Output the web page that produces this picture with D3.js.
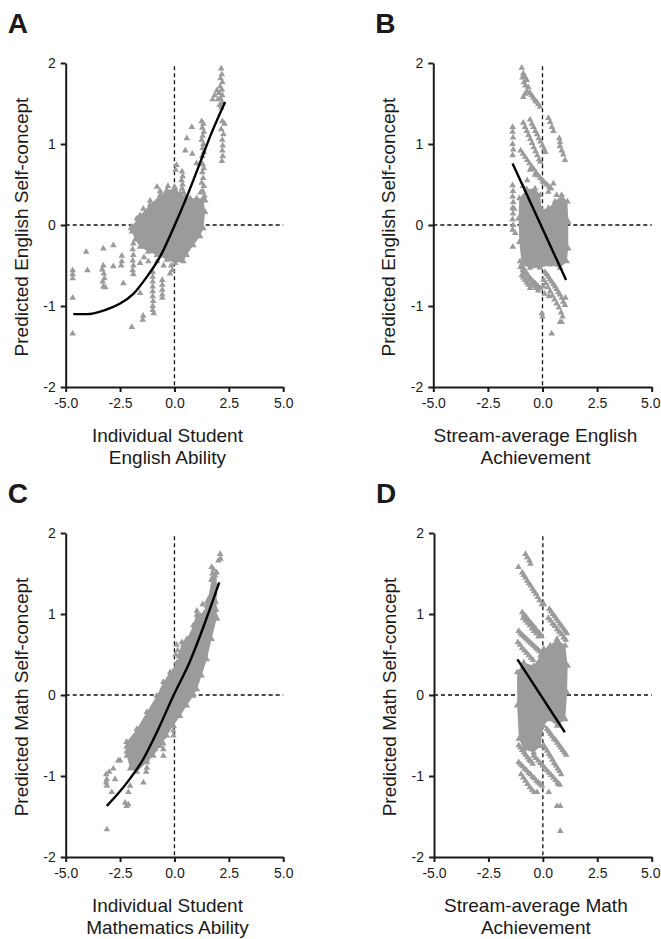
<!DOCTYPE html>
<html>
<head>
<meta charset="utf-8">
<script src="https://cdn.jsdelivr.net/npm/d3@7"></script>
<style>
  body { margin: 0; background: #fff; }
  svg { display: block; }
  text { font-family: "Liberation Sans", Arial, sans-serif; fill: #1a1a1a; }
</style>
</head>
<body>
<svg id="fig"></svg>
<script>
// axis ticks shared by all four panels
const xTicks = [-5, -2.5, 0, 2.5, 5];
const yTicks = [-2, -1, 0, 1, 2];

// --- Panel A: individual English ability vs predicted English self-concept ---
const pointsA = [
  [2.15,1.93],[2.18,1.86],[2.12,1.81],[2.2,1.76],[2.1,1.71],[2.18,1.67],[2.05,1.63],[2.2,1.6],[2.12,1.56],[2.2,1.51],
  [2.08,1.48],[2.15,1.45],[1.95,1.66],[1.85,1.6],[1.75,1.55],[2.0,1.55],
  [2.2,1.28],[2.3,1.25],[2.15,1.18],[2.25,1.12],[2.2,1.05],[2.22,0.98],[2.2,0.92],[2.22,0.85],[2.18,0.79],
  [1.25,1.28],[1.33,1.25],[1.28,1.2],[1.35,1.15],[1.3,1.1],[1.25,1.05],[1.33,1.0],[1.3,0.95],[1.35,0.9],[1.28,0.85],
  [1.3,0.75],[1.35,0.7],[1.28,0.65],[1.32,0.58],[1.25,0.52],[1.35,0.48],[1.3,0.42],[1.38,0.36],[1.42,0.3],[1.2,0.4],
  [0.8,1.21],[0.57,1.07],[0.5,0.92],[0.82,0.88],[1.02,0.76],[0.1,0.74],[0.05,0.68],
  [0.35,0.66],[0.38,0.6],[0.33,0.55],[0.37,0.5],[0.35,0.45],[0.42,0.4],[0.0,0.47],[0.02,0.42],
  [-0.66,0.42],[-0.8,0.47],[-1.12,0.3],[-1.43,0.2],[-1.73,0.08],[-2.0,-0.04],[-0.3,0.48],
  [-4.68,-0.56],[-4.68,-0.61],[-4.68,-0.66],[-4.68,-0.9],[-4.68,-1.34],
  [-4.06,-0.33],[-4.0,-0.56],
  [-3.27,-0.29],[-3.27,-0.5],[-3.32,-0.55],[-3.25,-0.6],[-3.22,-0.66],[-3.3,-0.7],[-3.27,-0.76],[-3.18,-0.77],
  [-2.81,-0.25],[-2.81,-0.51],
  [-2.42,-0.45],[-2.45,-0.5],[-2.35,-0.72],[-2.42,-0.38],
  [-1.89,-0.23],[-1.92,-0.3],[-1.89,-0.37],[-1.92,-0.44],[-1.89,-0.5],[-1.92,-0.56],[-1.89,-0.61],
  [-1.58,-0.47],[-1.58,-0.84],
  [-1.96,-1.26],[-1.46,-1.17],[-1.44,-1.12],
  [-1.0,-0.58],[-1.0,-0.64],[-1.0,-0.7],[-1.0,-0.76],[-1.0,-0.82],[-1.0,-0.88],[-0.98,-0.94],[-1.0,-1.0],[-1.0,-1.05],[-0.95,-1.09],
  [-0.56,-0.68],[-0.56,-0.74],[-0.56,-0.8],[-0.56,-0.86],[-0.56,-0.9],
  [-0.1,-0.56],[-0.2,-0.6],[-0.15,-0.5],
  [-1.4,-0.4],[-1.2,-0.45],[-0.8,-0.45],[-0.5,-0.5]
];
// outline of the dense core of the cloud
const cloudA = [
  [-1.96,-0.02],[-1.58,0.12],[-1.12,0.25],[-0.66,0.37],[-0.35,0.43],[0.03,0.45],[0.26,0.39],[0.49,0.35],
  [0.72,0.33],[1.02,0.33],[1.33,0.33],[1.41,0.16],[1.33,-0.04],[1.18,-0.14],[0.87,-0.25],[0.56,-0.37],
  [0.41,-0.45],[0.03,-0.47],[-0.35,-0.43],[-0.81,-0.37],[-1.2,-0.33],[-1.58,-0.27],[-1.81,-0.18],[-1.96,-0.08]
];
const fitA = [
  [-4.65,-1.1],[-4.0,-1.1],[-3.42,-1.07],[-2.9,-1.02],[-2.5,-0.97],[-1.89,-0.85],[-1.27,-0.64],
  [-0.66,-0.39],[-0.05,-0.04],[0.57,0.35],[1.18,0.77],[1.71,1.14],[2.33,1.52]
];

// --- Panel B: stream-average English achievement ---
const pointsB = [
  [-0.95,1.94],[-0.88,1.87],[-0.92,1.82],[-0.8,1.83],[-0.85,1.76],[-0.72,1.79],[-0.78,1.72],[-0.65,1.7],[-0.7,1.65],
  [-0.57,1.63],[-0.5,1.6],[-0.42,1.57],[-0.35,1.54],[-0.27,1.52],[-0.2,1.49],[-0.11,1.46],[-0.88,1.58],[-0.8,1.62],
  [-1.37,1.21],[-1.37,1.15],[-1.35,1.08],[-1.37,1.0],[-1.34,0.93],[-1.37,0.86],
  [-0.88,1.26],[-0.8,1.21],[-0.72,1.16],[-0.64,1.11],[-0.56,1.06],[-0.48,1.01],[-0.4,0.96],[-0.32,0.91],[-0.24,0.86],
  [-0.16,0.81],[-0.1,0.78],
  [-0.57,1.3],[-0.49,1.25],[-0.41,1.21],[-0.33,1.16],[-0.25,1.12],[-0.17,1.07],[-0.09,1.03],[-0.01,0.98],[0.07,0.94],[0.13,0.9],
  [0.27,1.32],[0.35,1.27],[0.43,1.21],[0.5,1.16],[0.77,1.07],[0.8,0.97],[0.88,0.92],[0.95,0.87],[1.03,0.8],[0.8,1.02],
  [-1.0,0.92],[-0.9,0.88],[-0.8,0.84],[-0.7,0.8],[-0.6,0.76],[-0.5,0.72],[-0.4,0.69],[-0.3,0.65],[-0.2,0.61],
  [-0.1,0.58],[0.0,0.55],[0.1,0.52],[0.2,0.5],[0.3,0.47],
  [-0.57,0.68],[-0.34,0.62],[0.04,0.53],[0.27,0.41],[0.5,0.51],[0.65,0.37],[-0.7,0.55],[-0.9,0.48],[0.4,0.45],
  [-1.37,0.49],[-1.35,0.42],[-1.37,0.35],[-1.34,0.28],[-1.37,0.21],[-1.35,0.14],[-1.37,0.07],[-1.34,0.0],[-1.37,-0.06],
  [-1.36,-0.27],[-1.3,0.2],[-1.25,-0.1],
  [-1.03,-0.45],[-0.95,-0.5],[-0.88,-0.53],[-0.8,-0.57],[-0.72,-0.6],[-0.65,-0.63],[-0.57,-0.66],[-0.5,-0.68],
  [-0.42,-0.7],[-0.34,-0.72],[-0.27,-0.74],[-0.19,-0.76],[-0.11,-0.78],
  [-1.0,-0.52],[-0.9,-0.56],[-0.8,-0.6],[-0.7,-0.64],[-0.6,-0.68],[-0.5,-0.72],[-0.4,-0.75],[-0.3,-0.78],[-0.2,-0.81],
  [-0.95,-0.62],[-0.88,-0.65],[-0.8,-0.68],[-0.72,-0.71],[-0.65,-0.74],[-0.57,-0.78],
  [0.11,-0.58],[0.19,-0.61],[0.27,-0.64],[0.34,-0.67],[0.42,-0.7],[0.5,-0.73],[0.57,-0.76],[0.65,-0.79],[0.72,-0.83],
  [0.8,-0.86],[0.88,-0.9],[0.95,-0.95],[1.03,-0.99],
  [0.05,-0.68],[0.15,-0.72],[0.25,-0.77],[0.35,-0.82],[0.45,-0.87],[0.55,-0.92],[0.65,-0.97],[0.75,-1.02],[0.85,-1.08],[0.92,-1.13],
  [0.04,-0.76],[0.1,-0.85],[-0.03,-1.09],[0.0,-1.13],[0.42,-1.34],[0.8,-1.2],[0.88,-1.2],[1.05,-0.9],[0.3,-0.88]
];
const cloudB = [
  [-1.06,0.33],[-0.72,0.44],[-0.34,0.45],[-0.11,0.37],[-0.04,0.19],[0.27,0.21],[0.57,0.29],[0.88,0.37],
  [1.14,0.29],[1.18,0.04],[1.18,-0.29],[1.11,-0.45],[0.8,-0.53],[0.34,-0.49],[-0.11,-0.53],[-0.57,-0.53],
  [-0.95,-0.49],[-1.06,-0.21],[-1.1,0.08]
];
const fitB = [[-1.37,0.76],[1.08,-0.68]];

// --- Panel C: individual mathematics ability ---
const pointsC = [
  [2.1,1.74],[2.02,1.66],[2.12,1.68],[1.71,1.58],[1.8,1.55],[1.75,1.5],[1.85,1.48],[1.72,1.42],[1.8,1.38],[1.9,1.35],
  [1.75,1.3],[1.85,1.25],[1.78,1.2],[1.9,1.15],[1.82,1.1],[1.92,1.05],[1.85,1.0],[1.95,0.95],[1.6,1.2],[1.5,1.15],
  [1.03,0.99],[1.08,0.95],[1.05,0.9],[1.1,0.85],[1.03,0.8],[1.08,0.75],[1.05,0.7],[1.3,1.12],
  [0.1,0.62],[0.15,0.55],[0.05,0.5],[0.2,0.48],
  [-3.14,-0.98],[-3.11,-1.04],[-3.11,-1.12],[-3.14,-1.08],[-3.0,-0.95],[-2.81,-0.91],[-2.73,-1.04],[-2.88,-1.2],
  [-2.58,-0.81],[-2.27,-1.33],[-2.2,-1.37],[-2.12,-1.35],[-1.43,-1.08],[-3.11,-1.66],[-2.2,-0.58],[-2.2,-0.64],
  [-2.2,-0.7],[-2.04,-1.12],[-2.12,-1.2],[-2.5,-0.81],
  [-0.51,-0.38],[-0.51,-0.45],[-0.51,-0.52],[-0.51,-0.6],[-0.51,-0.67],[-0.51,-0.75],[-0.05,-0.38],[-0.05,-0.44],
  [-0.05,-0.5],[-0.89,-0.67],[-1.27,-0.6],[-1.27,-0.7],[-1.27,-0.8],[-1.27,-0.9],[-1.3,-0.95],[-1.9,-0.7],[-1.9,-0.8],[-1.9,-0.9]
];
const cloudC = [
  [-2.19,-0.58],[-1.73,-0.42],[-1.27,-0.21],[-0.81,-0.01],[-0.51,0.16],[-0.2,0.28],[0.11,0.4],[0.34,0.65],
  [0.57,0.69],[0.87,0.86],[1.03,1.04],[1.18,0.98],[1.49,1.1],[1.71,1.43],[1.94,1.51],[1.94,0.94],[1.71,0.69],
  [1.49,0.44],[1.25,0.24],[1.03,0.07],[0.87,-0.01],[0.57,-0.13],[0.26,-0.26],[-0.05,-0.38],[-0.35,-0.5],
  [-0.66,-0.63],[-0.97,-0.75],[-1.27,-0.83],[-1.73,-0.95],[-2.04,-0.91],[-2.19,-0.75]
];
const fitC = [
  [-3.11,-1.37],[-2.6,-1.22],[-2.12,-1.06],[-1.43,-0.79],[-0.81,-0.46],[-0.05,-0.01],[0.72,0.42],[1.33,0.84],[2.06,1.39]
];

// --- Panel D: stream-average math achievement ---
const pointsD = [
  [-0.8,1.74],[-0.72,1.7],[-0.62,1.66],[-0.57,1.62],[-1.12,1.58],
  [-0.95,1.51],[-0.88,1.48],[-0.8,1.45],[-0.72,1.41],[-0.64,1.38],[-0.56,1.35],[-0.48,1.31],[-0.4,1.28],[-0.32,1.25],
  [-0.24,1.21],[-0.15,1.17],[-0.05,1.12],[0.05,1.12],
  [-0.95,1.02],[-0.87,0.99],[-0.79,0.97],[-0.71,0.94],[-0.63,0.91],[-0.55,0.89],[-0.47,0.86],[-0.39,0.84],[-0.31,0.81],
  [-0.23,0.78],[-0.15,0.76],[-0.06,0.73],
  [-0.9,0.95],[-0.8,0.92],[-0.7,0.89],[-0.6,0.86],[-0.5,0.82],[-0.4,0.79],[-0.3,0.76],[-0.2,0.72],
  [-1.11,0.79],[-1.03,0.76],[-0.95,0.74],[-0.87,0.72],[-0.79,0.7],[-0.71,0.68],[-0.63,0.66],[-0.55,0.64],[-0.47,0.62],
  [-0.39,0.6],[-0.31,0.58],[-0.23,0.56],[-0.15,0.54],
  [-1.15,0.65],[-1.05,0.62],[-0.95,0.58],[-0.85,0.55],[-0.75,0.52],[-0.65,0.49],[-0.55,0.46],[-0.45,0.43],
  [0.3,1.06],[0.38,1.03],[0.46,1.0],[0.54,0.97],[0.62,0.94],[0.7,0.91],[0.78,0.88],[0.86,0.85],[0.94,0.82],[1.02,0.79],[1.1,0.76],
  [0.25,0.95],[0.35,0.92],[0.45,0.88],[0.55,0.85],[0.65,0.81],[0.75,0.78],[0.85,0.75],[0.95,0.71],[1.05,0.68],
  [0.19,-0.42],[0.27,-0.45],[0.35,-0.48],[0.43,-0.51],[0.51,-0.54],[0.59,-0.56],[0.67,-0.59],[0.75,-0.62],[0.83,-0.65],
  [0.91,-0.68],[0.99,-0.71],[1.07,-0.74],
  [0.04,-0.62],[0.12,-0.66],[0.2,-0.69],[0.28,-0.73],[0.36,-0.76],[0.44,-0.8],[0.52,-0.84],[0.6,-0.87],[0.68,-0.91],
  [0.76,-0.94],[0.84,-0.98],
  [-0.42,-0.75],[-0.32,-0.78],[-0.22,-0.81],[-0.12,-0.84],[-0.02,-0.87],[0.08,-0.9],[0.18,-0.93],[0.28,-0.96],[0.38,-0.99],
  [0.48,-1.02],[0.58,-1.05],[0.68,-1.08],[0.78,-1.11],
  [-1.11,-0.62],[-1.03,-0.65],[-0.95,-0.68],[-0.87,-0.71],[-0.79,-0.74],[-0.71,-0.77],[-0.63,-0.8],[-0.55,-0.82],[-0.47,-0.85],
  [-1.11,-0.83],[-1.02,-0.86],[-0.93,-0.88],[-0.84,-0.91],[-0.75,-0.93],[-0.66,-0.96],[-0.57,-0.98],[-0.48,-1.01],
  [-0.39,-1.03],[-0.3,-1.06],[-0.21,-1.08],[-0.12,-1.1],[-0.04,-1.12],
  [-1.0,-0.98],[-0.9,-1.02],[-0.8,-1.06],[-0.7,-1.1],[-0.6,-1.14],[-0.5,-1.17],[-0.4,-1.2],
  [0.27,-1.2],[0.72,-1.1],[0.65,-1.37],[0.8,-1.37],[0.8,-1.68],[-0.27,-1.2]
];
const cloudD = [
  [-1.18,0.28],[-0.88,0.4],[-0.42,0.36],[-0.11,0.49],[0.04,0.57],[0.34,0.61],[0.65,0.69],[1.03,0.61],
  [1.14,0.36],[1.11,0.03],[1.03,-0.3],[0.65,-0.38],[0.27,-0.3],[0.04,-0.38],[-0.11,-0.63],[-0.42,-0.71],
  [-0.88,-0.67],[-1.1,-0.54],[-1.18,-0.13]
];
const fitD = [[-1.17,0.44],[1.01,-0.46]];

const W = 661, H = 939;
const svg = d3.select("#fig").attr("width", W).attr("height", H);

const loc = d3.formatLocale({decimal: ".", thousands: ",", grouping: [3], currency: ["", ""], minus: "-"});
const fmtX = loc.format(".1f");
const fmtY = loc.format("d");

const panels = [
  {label: "A", left: 65.7, top: 63, w: 217.5, pts: pointsA, cloud: cloudA, fit: fitA, curved: true,
   yTitle: "Predicted English Self-concept", xTitle: ["Individual Student", "English Ability"]},
  {label: "B", left: 433.3, top: 63, w: 218.4, pts: pointsB, cloud: cloudB, fit: fitB, curved: false,
   yTitle: "Predicted English Self-concept", xTitle: ["Stream-average English", "Achievement"]},
  {label: "C", left: 65.7, top: 533, w: 217.5, pts: pointsC, cloud: cloudC, fit: fitC, curved: true,
   yTitle: "Predicted Math Self-concept", xTitle: ["Individual Student", "Mathematics Ability"]},
  {label: "D", left: 434, top: 533, w: 217.7, pts: pointsD, cloud: cloudD, fit: fitD, curved: false,
   yTitle: "Predicted Math Self-concept", xTitle: ["Stream-average Math", "Achievement"]}
];
const ph = 324;
const grey = "#9b9b9b";
const tri = d3.symbol(d3.symbolTriangle, 19);

panels.forEach(p => {
  const x = d3.scaleLinear().domain([-5, 5]).range([p.left, p.left + p.w]);
  const y = d3.scaleLinear().domain([-2, 2]).range([p.top + ph, p.top]);
  const g = svg.append("g");

  // reference lines at zero (drawn under the points)
  g.append("line")
    .attr("x1", x(0)).attr("x2", x(0))
    .attr("y1", y(1.96)).attr("y2", y(-2))
    .attr("stroke", "#111").attr("stroke-width", 1.3).attr("stroke-dasharray", "4,3");
  g.append("line")
    .attr("x1", x(-5)).attr("x2", x(5))
    .attr("y1", y(0)).attr("y2", y(0))
    .attr("stroke", "#111").attr("stroke-width", 1.3).attr("stroke-dasharray", "4,3");

  // dense core of the point cloud
  g.append("path")
    .datum(p.cloud)
    .attr("d", d3.line().x(d => x(d[0])).y(d => y(d[1])).curve(d3.curveLinearClosed))
    .attr("fill", grey);

  // individual triangles, plus the ragged edge of the core
  g.selectAll("path.pt")
    .data(p.pts.concat(p.cloud))
    .join("path")
    .attr("class", "pt")
    .attr("transform", d => `translate(${x(d[0])},${y(d[1])})`)
    .attr("d", tri)
    .attr("fill", grey);

  // fitted curve / line
  g.append("path")
    .datum(p.fit)
    .attr("d", d3.line().x(d => x(d[0])).y(d => y(d[1]))
      .curve(p.curved ? d3.curveMonotoneX : d3.curveLinear))
    .attr("fill", "none").attr("stroke", "#000").attr("stroke-width", 2.4);

  // axes
  const xa = g.append("g")
    .attr("transform", `translate(0,${p.top + ph})`)
    .call(d3.axisBottom(x).tickValues(xTicks).tickFormat(fmtX).tickSize(5).tickSizeOuter(0).tickPadding(6));
  const ya = g.append("g")
    .attr("transform", `translate(${p.left},0)`)
    .call(d3.axisLeft(y).tickValues(yTicks).tickFormat(fmtY).tickSize(5).tickSizeOuter(0).tickPadding(5));
  [xa, ya].forEach(a => {
    a.attr("font-family", null);
    a.select(".domain").attr("stroke", "#1a1a1a").attr("stroke-width", 2);
    a.selectAll(".tick line").attr("stroke", "#1a1a1a").attr("stroke-width", 2);
    a.selectAll(".tick text").attr("font-size", 14).attr("fill", "#1a1a1a");
  });
  // keep the right-most tick label inside the page
  xa.selectAll(".tick text").filter(d => x(d) + 10 > W).attr("dx", -1.5);

  // titles
  const cx = p.left + p.w / 2 - 7;
  p.xTitle.forEach((t, i) => {
    g.append("text")
      .attr("x", cx).attr("y", p.top + ph + 55 + i * 22)
      .attr("text-anchor", "middle").attr("font-size", 19)
      .text(t);
  });
  g.append("text")
    .attr("transform", `translate(${p.left - 38},${p.top + ph / 2 + 2}) rotate(-90)`)
    .attr("text-anchor", "middle").attr("font-size", 19)
    .text(p.yTitle);

  g.append("text")
    .attr("x", p.left - 58).attr("y", p.top - 30)
    .attr("font-size", 28).attr("font-weight", "bold")
    .text(p.label);
});
</script>
</body>
</html>
